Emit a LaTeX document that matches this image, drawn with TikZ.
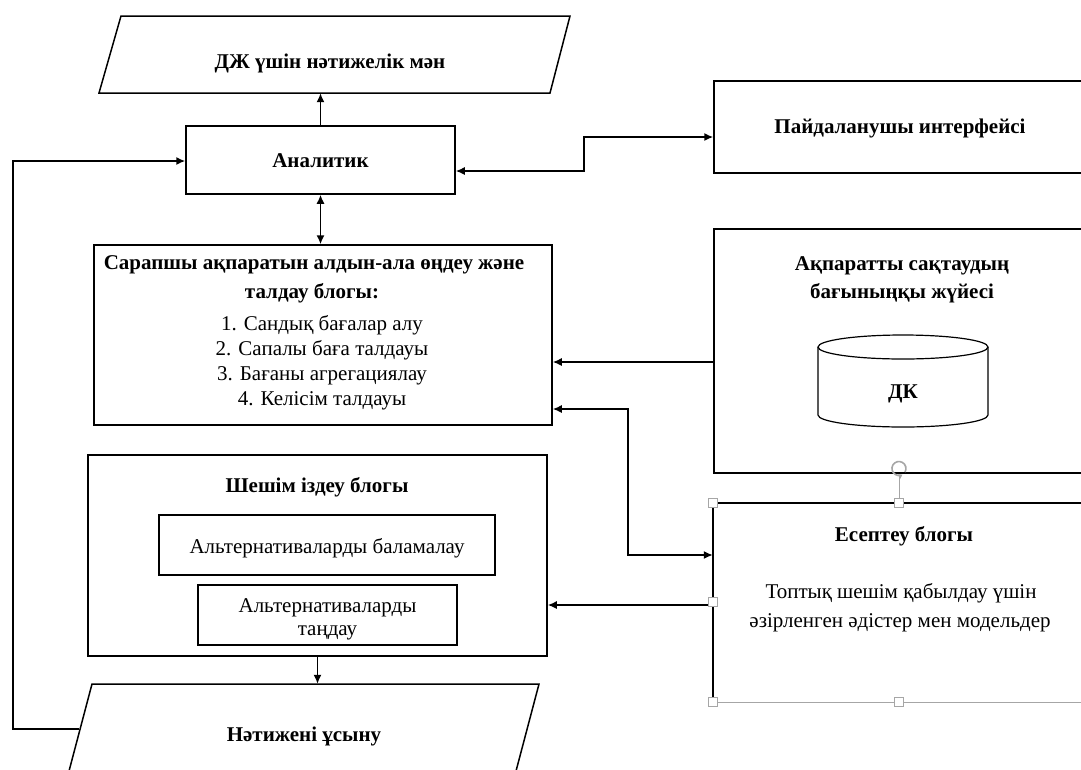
\documentclass[tikz,border=0pt]{standalone}
\usepackage{fontspec}
\setmainfont{Liberation Serif}
\usetikzlibrary{arrows.meta}
\begin{document}
\begin{tikzpicture}[x=1pt,y=-1pt,
  box/.style={draw, line width=1.5pt, inner sep=0pt},
  area/.style={inner sep=0pt},
  tb/.style={anchor=base, inner sep=0pt, font=\fontsize{21}{25}\selectfont\bfseries},
  tr/.style={anchor=base, inner sep=0pt, font=\fontsize{21}{25}\selectfont},
  conn/.style={line width=1.5pt},
  tip/.style={-{Latex[length=9pt,width=8pt]}},
  dtip/.style={{Latex[length=9pt,width=8pt]}-{Latex[length=9pt,width=8pt]}},
  handle/.style={draw=black!35, fill=white, line width=1pt, minimum size=9pt, inner sep=0pt},
]
\useasboundingbox (0,0) rectangle (1081,769);
\clip (0,0) rectangle (1081,769);
\fill[white] (0,0) rectangle (1081,769);

% top parallelogram
\draw[conn] (121,16) -- (570,16) -- (550,93) -- (99,93) -- cycle;
\node[area, minimum width=451pt, minimum height=77pt] (dj) at (334.5,54.5) {};
\node[tb] (djt) at (330,68) {ДЖ үшін нәтижелік мән};

% Analytik
\node[box, minimum width=269pt, minimum height=68pt] (an) at (320.5,160) {};
\node[tb] (ant) at (320.5,167) {Аналитик};

% User interface
\node[box, minimum width=376pt, minimum height=92pt] (pi) at (902,127) {};
\node[tb] (pit) at (900,133) {Пайдаланушы интерфейсі};

% Expert info block
\node[box, minimum width=458pt, minimum height=180pt] (sar) at (323,335) {};
\node[tb] (sar1) at (314,269) {Сарапшы ақпаратын алдын-ала өңдеу және};
\node[tb] (sar2) at (312,298) {талдау блогы:};
\node[tr] (sar3) at (322,330) {1. Сандық бағалар алу};
\node[tr] (sar4) at (322,355) {2. Сапалы баға талдауы};
\node[tr] (sar5) at (322,380) {3. Бағаны агрегациялау};
\node[tr] (sar6) at (322,405) {4. Келісім талдауы};

% Storage subsystem
\node[box, minimum width=376pt, minimum height=244pt] (ak) at (902,351) {};
\node[tb] (ak1) at (902,270) {Ақпаратты сақтаудың};
\node[tb] (ak2) at (902,298) {бағыныңқы жүйесі};
\draw[line width=1.2pt] (818,347) -- (818,415) arc[start angle=180,end angle=360,x radius=85pt,y radius=12pt] -- (988,347);
\draw[line width=1.2pt] (903,347) ellipse [x radius=85pt, y radius=12pt];
\node[tb] (dk) at (903,398) {ДК};

% Decision search block
\node[box, minimum width=459pt, minimum height=201pt] (sh) at (317.5,555.5) {};
\node[tb] (sht) at (317,492) {Шешім іздеу блогы};
\node[box, line width=1.3pt, minimum width=336pt, minimum height=60pt] (b1) at (327,545) {};
\node[tr] (b1t) at (327,553) {Альтернативаларды баламалау};
\node[box, line width=1.3pt, minimum width=259pt, minimum height=60pt] (b2) at (327.5,615) {};
\node[tr] (b2t1) at (327.5,612) {Альтернативаларды};
\node[tr] (b2t2) at (327.5,635) {таңдау};

% Computation block
\node[area, minimum width=377pt, minimum height=199pt] (es) at (901.5,602.5) {};
\draw[line width=1.2pt, black!35] (es.south west) -- (es.south east);
\draw[line width=1.8pt] (es.south west) -- (es.north west) -- (es.north east);
\node[tb] (est) at (904,541) {Есептеу блогы};
\node[tr] (es1) at (901,598) {Топтық шешім қабылдау үшін};
\node[tr] (es2) at (900,627) {әзірленген әдістер мен модельдер};

% bottom parallelogram
\draw[conn] (92,684) -- (539,684) -- (511,790) -- (64,790) -- cycle;
\node[area, minimum width=447pt, minimum height=86pt] (nat) at (315.5,727) {};
\node[tb] (natt) at (304,741) {Нәтижені ұсыну};

% connectors
\draw[conn,tip] (an.north) -- (an.north |- dj.south);
\draw[conn,dtip] (an.south) -- (an.south |- sar.north);
\coordinate (c3a) at (584,171);
\coordinate (c3b) at (584,137);
\draw[conn,dtip] (an.east |- c3a) -- (c3a) -- (c3b) -- (pi.west |- c3b);
\coordinate (c4) at (0,362);
\draw[conn,tip] (ak.west |- c4) -- (sar.east |- c4);
\coordinate (c5a) at (628,409);
\coordinate (c5b) at (628,555);
\draw[conn,dtip] (sar.east |- c5a) -- (c5a) -- (c5b) -- (es.west |- c5b);
\coordinate (c6) at (0,605);
\draw[conn,tip] (es.west |- c6) -- (sh.east |- c6);
\draw[conn,tip] (sh.south) -- (sh.south |- nat.north);
\coordinate (fb0) at (79,729);
\coordinate (fb1) at (13,729);
\coordinate (fb2) at (13,161);
\draw[conn,tip] (fb0) -- (fb1) -- (fb2) -- (an.west |- fb2);

% selection handles
\draw[black!35, line width=1pt] (899,476) -- (899,498);
\draw[black!35, line width=1.6pt, -{Stealth[length=4pt,width=5pt]}] (905,472) arc[start angle=-30, end angle=300, radius=7pt];
\node[handle] (h1) at (713,503) {};
\node[handle] (h2) at (899,503) {};
\node[handle] (h3) at (713,602) {};
\node[handle] (h4) at (713,702) {};
\node[handle] (h5) at (899,702) {};
\end{tikzpicture}
\end{document}
